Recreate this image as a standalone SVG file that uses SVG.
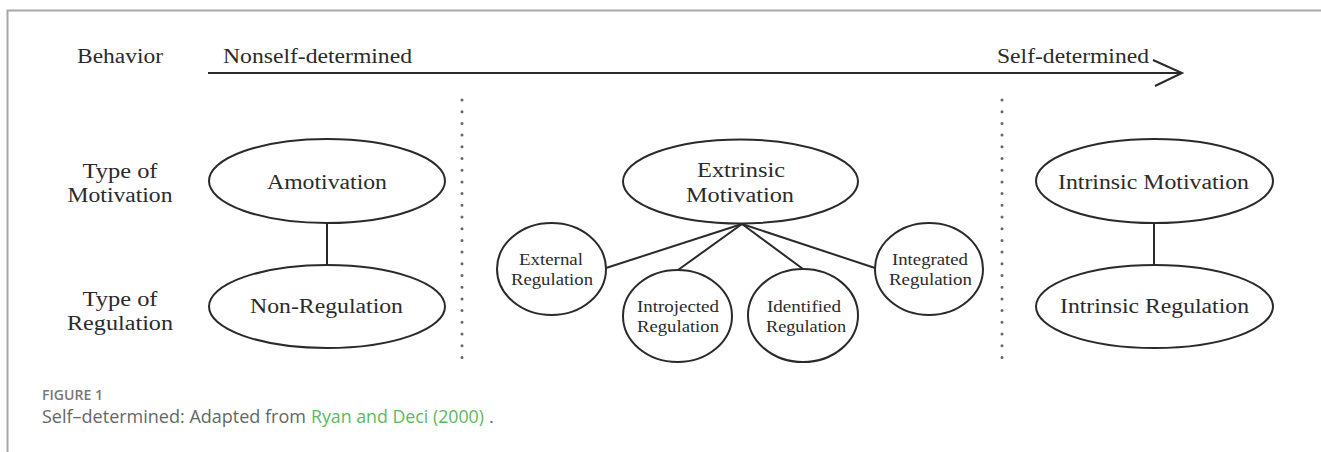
<svg xmlns="http://www.w3.org/2000/svg" width="1321" height="452" viewBox="0 0 1321 452">
  <style>
    .lbl { font-family: "Liberation Serif", "Times New Roman", serif; fill: #2b2b2b; text-anchor: middle; }
    .big { font-size: 20px; }
    .small { font-size: 16.5px; }
    .shape { fill: none; stroke: #2a2a2a; stroke-width: 2; }
    .link { stroke: #2a2a2a; stroke-width: 2; fill: none; }
    .dots { stroke: #666; stroke-width: 3; stroke-linecap: round; stroke-dasharray: 0 11.7; fill: none; }
    .cap { font-family: "Open Sans", "Liberation Sans", sans-serif; font-size: 18.5px; fill: #666; }
    .fig { font-family: "Open Sans", "Liberation Sans", sans-serif; font-size: 14px; font-weight: 600; fill: #777; }
    .ref { fill: #5cb85c; }
  </style>

  <!-- panel frame -->
  <g id="frame">
    <path d="M7.5 452 V10.5 H1321" fill="none" stroke="#a8a8a8" stroke-width="2"/>
  </g>

  <!-- row headings -->
  <g id="headings">
    <text class="lbl big" x="120" y="63" textLength="86" lengthAdjust="spacingAndGlyphs">Behavior</text>
    <text class="lbl big" x="120" y="178" textLength="75" lengthAdjust="spacingAndGlyphs">Type of</text>
    <text class="lbl big" x="120" y="202" textLength="105" lengthAdjust="spacingAndGlyphs">Motivation</text>
    <text class="lbl big" x="120" y="306" textLength="75" lengthAdjust="spacingAndGlyphs">Type of</text>
    <text class="lbl big" x="120" y="330" textLength="106" lengthAdjust="spacingAndGlyphs">Regulation</text>
  </g>

  <!-- behaviour continuum -->
  <g id="continuum">
    <text class="lbl big" x="317.5" y="63" textLength="189" lengthAdjust="spacingAndGlyphs">Nonself-determined</text>
    <text class="lbl big" x="1073" y="63" textLength="152" lengthAdjust="spacingAndGlyphs">Self-determined</text>
  </g>

  <!-- connectors -->
  <g id="connectors">
    <line class="link" x1="208" y1="73" x2="1181" y2="73" stroke-width="2.5"/>
    <polyline class="link" points="1153,60 1182,73 1155,86" stroke-width="2.5"/>
    <line class="dots" x1="462" y1="100" x2="462" y2="358"/>
    <line class="dots" x1="1002" y1="100" x2="1002" y2="358"/>
    <line class="link" x1="327" y1="223" x2="327" y2="265"/>
    <line class="link" x1="1154" y1="223" x2="1154" y2="265"/>
    <line class="link" x1="742" y1="224" x2="606" y2="268"/>
    <line class="link" x1="742" y1="224" x2="678" y2="270"/>
    <line class="link" x1="742" y1="224" x2="803" y2="269"/>
    <line class="link" x1="742" y1="224" x2="875" y2="268"/>
  </g>

  <g id="amotivation">
    <ellipse class="shape" cx="327" cy="181" rx="118" ry="42"/>
    <text class="lbl big" x="327" y="189" textLength="120" lengthAdjust="spacingAndGlyphs">Amotivation</text>
  </g>
  <g id="non-regulation">
    <ellipse class="shape" cx="327" cy="306.5" rx="118" ry="41.5"/>
    <text class="lbl big" x="326.5" y="313" textLength="153" lengthAdjust="spacingAndGlyphs">Non-Regulation</text>
  </g>

  <g id="extrinsic-motivation">
    <ellipse class="shape" cx="740.5" cy="181.5" rx="117.5" ry="42"/>
    <text class="lbl big" x="741" y="177" textLength="88" lengthAdjust="spacingAndGlyphs">Extrinsic</text>
    <text class="lbl big" x="740" y="202" textLength="108" lengthAdjust="spacingAndGlyphs">Motivation</text>
  </g>

  <g id="external-regulation">
    <ellipse class="shape" cx="551.5" cy="269" rx="54.5" ry="46"/>
    <text class="lbl small" x="551" y="265" textLength="64" lengthAdjust="spacingAndGlyphs">External</text>
    <text class="lbl small" x="552" y="285" textLength="82" lengthAdjust="spacingAndGlyphs">Regulation</text>
  </g>
  <g id="introjected-regulation">
    <ellipse class="shape" cx="677.5" cy="316" rx="54.5" ry="46"/>
    <text class="lbl small" x="678" y="312" textLength="82" lengthAdjust="spacingAndGlyphs">Introjected</text>
    <text class="lbl small" x="678" y="332" textLength="82" lengthAdjust="spacingAndGlyphs">Regulation</text>
  </g>
  <g id="identified-regulation">
    <ellipse class="shape" cx="803" cy="315.5" rx="55" ry="46.5"/>
    <text class="lbl small" x="804" y="312" textLength="74" lengthAdjust="spacingAndGlyphs">Identified</text>
    <text class="lbl small" x="806" y="332" textLength="80" lengthAdjust="spacingAndGlyphs">Regulation</text>
  </g>
  <g id="integrated-regulation">
    <ellipse class="shape" cx="929" cy="269" rx="54" ry="46"/>
    <text class="lbl small" x="930" y="265" textLength="76" lengthAdjust="spacingAndGlyphs">Integrated</text>
    <text class="lbl small" x="930.5" y="285" textLength="83" lengthAdjust="spacingAndGlyphs">Regulation</text>
  </g>

  <g id="intrinsic-motivation">
    <ellipse class="shape" cx="1154.5" cy="181" rx="118.5" ry="42"/>
    <text class="lbl big" x="1153.5" y="189" textLength="191" lengthAdjust="spacingAndGlyphs">Intrinsic Motivation</text>
  </g>
  <g id="intrinsic-regulation">
    <ellipse class="shape" cx="1154.5" cy="306.5" rx="118.5" ry="41.5"/>
    <text class="lbl big" x="1154.5" y="313" textLength="189" lengthAdjust="spacingAndGlyphs">Intrinsic Regulation</text>
  </g>

  <!-- figure caption -->
  <g id="caption">
    <text class="fig" x="42" y="400" textLength="61" lengthAdjust="spacingAndGlyphs">FIGURE 1</text>
    <text class="cap" x="42" y="423" textLength="264" lengthAdjust="spacingAndGlyphs">Self–determined: Adapted from</text>
    <text class="cap ref" x="311" y="423" textLength="173" lengthAdjust="spacingAndGlyphs">Ryan and Deci (2000)</text>
    <text class="cap" x="489" y="423">.</text>
  </g>
</svg>
